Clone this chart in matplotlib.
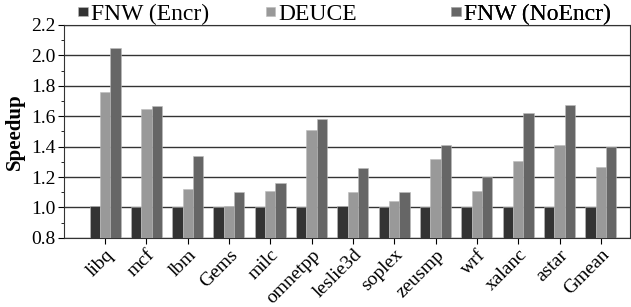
import matplotlib
matplotlib.use("Agg")
import matplotlib.pyplot as plt
import numpy as np

benchmarks = ["libq", "mcf", "lbm", "Gems", "milc", "omnetpp", "leslie3d",
              "soplex", "zeusmp", "wrf", "xalanc", "astar", "Gmean"]
fnw_encr = [1.01, 1.00, 1.00, 1.00, 1.005, 1.00, 1.01, 1.00, 1.00, 1.00, 1.00, 1.005, 1.005]
deuce = [1.76, 1.645, 1.12, 1.01, 1.11, 1.51, 1.105, 1.04, 1.32, 1.11, 1.305, 1.41, 1.265]
fnw_noencr = [2.05, 1.665, 1.34, 1.10, 1.16, 1.58, 1.26, 1.10, 1.41, 1.20, 1.62, 1.675, 1.40]

series = [("FNW (Encr)", fnw_encr, "#333333"),
          ("DEUCE", deuce, "#999999"),
          ("FNW (NoEncr)", fnw_noencr, "#666666")]

plt.rcParams['font.family'] = ['Liberation Serif', 'DejaVu Serif']

fig = plt.figure(figsize=(6.31, 3.07), dpi=100)
ax = fig.add_axes([0.101, 0.225, 0.897, 0.694])

x = np.arange(len(benchmarks))
w = 0.25
bars = []
for i, (name, vals, col) in enumerate(series):
    b = ax.bar(x + (i - 1) * w, np.array(vals) - 0.8, w, bottom=0.8, color=col,
               edgecolor="#bbbbbb", linewidth=0.4, label=name, zorder=3)
    bars.append(b)

ax.set_ylim(0.8, 2.2)
ax.set_xlim(-1.0, 12.7)
ax.set_yticks(np.arange(0.8, 2.21, 0.2))
ax.set_yticklabels([f"{v:.1f}" for v in np.arange(0.8, 2.21, 0.2)])
ax.set_yticks(np.arange(0.8, 2.21, 0.1), minor=True)
ax.yaxis.grid(True, color="#333333", linewidth=1.0, zorder=0)
ax.set_axisbelow(True)
ax.tick_params(axis='y', which='major', labelsize=14, length=4, direction='out', pad=2)
ax.tick_params(axis='y', which='minor', length=2)
ax.set_xticks(x)
ax.set_xticklabels(benchmarks, rotation=45, ha='right', rotation_mode='anchor', fontsize=14)
ax.tick_params(axis='x', length=4, direction='out', pad=2)
ax.set_ylabel("Speedup", fontsize=15, fontweight='bold', labelpad=4)
for s in ax.spines.values():
    s.set_color("#333333")

# one legend per entry, spaced like the original
leg_x = [0.026, 0.357, 0.685]
for (name, _, _), b, lx in zip(series, bars, leg_x):
    lg = ax.legend([b], [name], loc='lower left', bbox_to_anchor=(lx, 1.0),
                   frameon=False, fontsize=17, handlelength=0.4, handleheight=0.2,
                   handletextpad=0.15, borderaxespad=0, borderpad=0)
    ax.add_artist(lg)

fig.savefig("out.png", dpi=100)
